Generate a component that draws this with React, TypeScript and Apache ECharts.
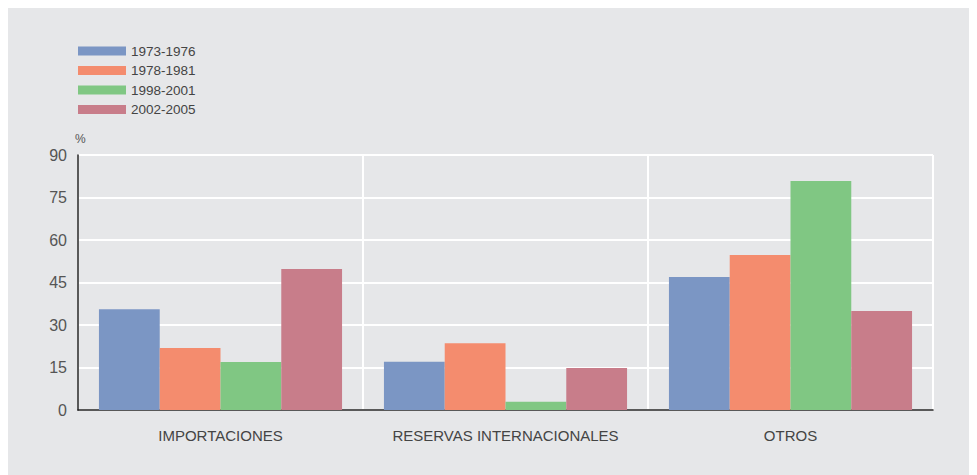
import React, { useEffect, useRef } from "react";
import * as echarts from "echarts";

const categories = ["IMPORTACIONES", "RESERVAS INTERNACIONALES", "OTROS"];
const seriesNames = ["1973-1976", "1978-1981", "1998-2001", "2002-2005"];
const s1973 = [35.6, 17, 46.9];
const s1978 = [21.9, 23.6, 54.7];
const s1998 = [16.9, 2.9, 80.8];
const s2002 = [49.8, 14.8, 34.9];
const colors = ["#7b96c4", "#f48c6e", "#80c783", "#c87d8a"];

export default function App() {
  const ref = useRef<HTMLDivElement>(null);
  useEffect(() => {
    if (!ref.current) return;
    const chart = echarts.init(ref.current, undefined, { renderer: "svg" });
    const data = [s1973, s1978, s1998, s2002];
    chart.setOption({
      animation: false,
      backgroundColor: "#e6e7e9",
      textStyle: { fontFamily: "'Liberation Sans', Arial, sans-serif" },
      legend: {
        orient: "vertical",
        left: 65,
        top: 31,
        itemWidth: 48,
        itemHeight: 9,
        itemGap: 5.5,
        icon: "rect",
        textStyle: { fontSize: 13.5, color: "#444" },
        data: seriesNames,
      },
      grid: { left: 70, right: 44, top: 147, bottom: 65 },
      xAxis: {
        type: "category",
        data: categories,
        axisLine: { lineStyle: { color: "#222", width: 1.5 } },
        axisTick: { show: false },
        axisLabel: { fontSize: 15, color: "#444", margin: 18, interval: 0 },
        splitLine: { show: true, interval: 0, lineStyle: { color: "#ffffff", width: 2 } },
      },
      yAxis: {
        type: "value",
        min: 0,
        max: 90,
        interval: 15,
        name: "%",
        nameGap: 10,
        nameLocation: "end",
        nameTextStyle: { fontSize: 12, color: "#555", align: "left", padding: [0, 0, 0, -3] },
        axisLine: { show: true, lineStyle: { color: "#222", width: 1.5 } },
        axisTick: { show: false },
        axisLabel: { fontSize: 16, color: "#555", margin: 11 },
        splitLine: { show: true, lineStyle: { color: "#ffffff", width: 2 } },
      },
      series: data.map((d, i) => ({
        name: seriesNames[i],
        type: "bar",
        data: d,
        barGap: "0%",
        barCategoryGap: "14.7%",
        itemStyle: { color: colors[i] },
      })),
    });
    return () => chart.dispose();
  }, []);
  return <div ref={ref} style={{ width: 969, height: 467 }} />;
}
